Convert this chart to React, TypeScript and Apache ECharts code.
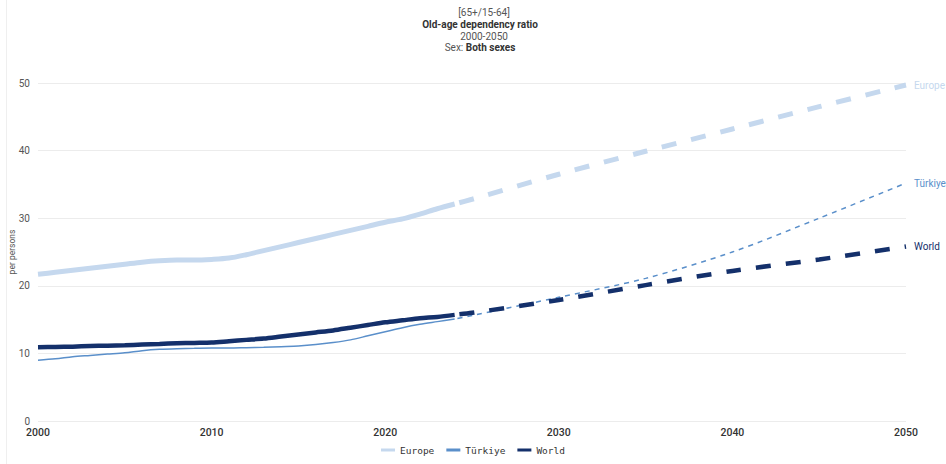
import React, { useEffect, useRef } from "react";
import * as echarts from "echarts";

const histYears = [2000, 2001, 2002, 2003, 2004, 2005, 2006, 2007, 2008, 2009, 2010, 2011, 2012, 2013, 2014, 2015, 2016, 2017, 2018, 2019, 2020, 2021, 2022, 2023, 2024];
const europeHist = [21.7, 22.0, 22.3, 22.6, 22.9, 23.2, 23.5, 23.7, 23.8, 23.8, 23.9, 24.1, 24.6, 25.2, 25.8, 26.4, 27.0, 27.6, 28.2, 28.8, 29.4, 29.9, 30.6, 31.4, 32.1];
const turkiyeHist = [9.0, 9.2, 9.5, 9.7, 9.9, 10.1, 10.4, 10.6, 10.7, 10.75, 10.8, 10.8, 10.85, 10.9, 11.0, 11.1, 11.3, 11.6, 12.0, 12.6, 13.2, 13.8, 14.3, 14.7, 15.1];
const worldHist = [10.9, 10.95, 11.0, 11.1, 11.15, 11.2, 11.3, 11.4, 11.5, 11.55, 11.6, 11.8, 12.0, 12.2, 12.5, 12.8, 13.1, 13.4, 13.8, 14.2, 14.6, 14.9, 15.2, 15.4, 15.7];

const projYears = [2024, 2025, 2030, 2035, 2040, 2045, 2050];
const europeProj = [32.1, 32.8, 36.5, 39.9, 43.2, 46.5, 49.7];
const turkiyeProj = [15.1, 15.6, 18.3, 21.1, 25.0, 30.0, 35.2];
const worldProj = [15.7, 16.0, 17.9, 20.1, 22.2, 23.9, 25.8];

const xTicks = [2000, 2010, 2020, 2030, 2040, 2050];
const yTicks = [0, 10, 20, 30, 40, 50];

const COLORS = { Europe: "#c5d8ee", Türkiye: "#5a8fca", World: "#14306b" };
const FONT = "Roboto, 'Noto Sans', sans-serif";

const pairs = (xs: number[], ys: number[]) => xs.map((x, i) => [x, ys[i]]);

export default function App() {
  const ref = useRef<HTMLDivElement>(null);
  useEffect(() => {
    if (!ref.current) return;
    const chart = echarts.init(ref.current, undefined, { renderer: "svg" });

    const mk = (name: "Europe" | "Türkiye" | "World", hist: number[], proj: number[], width: number, dash: number[], dashOffset: number) => [
      {
        name,
        type: "line",
        data: pairs(histYears, hist),
        smooth: 0.3,
        showSymbol: false,
        symbol: "none",
        lineStyle: { color: COLORS[name], width, type: "solid", cap: "butt" },
        itemStyle: { color: COLORS[name] },
        silent: true,
      },
      {
        name,
        type: "line",
        data: pairs(projYears, proj),
        smooth: 0.3,
        showSymbol: false,
        symbol: "none",
        lineStyle: { color: COLORS[name], width, type: dash, dashOffset, cap: "butt" },
        itemStyle: { color: COLORS[name] },
        silent: true,
        endLabel: {
          show: true,
          formatter: name,
          color: COLORS[name],
          fontSize: 10,
          fontFamily: FONT,
          distance: 8,
        },
      },
    ];

    chart.setOption({
      animation: false,
      backgroundColor: "#ffffff",
      textStyle: { fontFamily: FONT },
      grid: { left: 38, right: 40, top: 83, bottom: 43, containLabel: false, outerBoundsMode: "none" },
      xAxis: {
        type: "value",
        min: xTicks[0],
        max: xTicks[xTicks.length - 1],
        interval: 10,
        axisLine: { show: false },
        axisTick: { show: false },
        splitLine: { show: false },
        axisLabel: { color: "#333", fontSize: 10.5, fontWeight: 500, margin: 6, formatter: (v: number) => String(v) },
      },
      yAxis: {
        type: "value",
        min: yTicks[0],
        max: yTicks[yTicks.length - 1],
        interval: 10,
        axisLine: { show: false },
        axisTick: { show: false },
        splitLine: { lineStyle: { color: "#ececec", width: 1 } },
        axisLabel: { color: "#555", fontSize: 10, margin: 8 },
      },
      legend: {
        bottom: 4,
        left: "center",
        icon: "rect",
        itemWidth: 14,
        itemHeight: 3,
        itemGap: 12,
        selectedMode: false,
        data: ["Europe", "Türkiye", "World"],
        textStyle: { fontFamily: "'DejaVu Sans Mono', monospace", fontSize: 9.5, color: "#333" },
      },
      graphic: [
        { type: "line", shape: { x1: 6.5, y1: 0, x2: 6.5, y2: 464 }, style: { stroke: "#efefef", lineWidth: 1 }, silent: true },
        {
          type: "text",
          x: 12,
          y: 252,
          rotation: Math.PI / 2,
          style: { text: "per persons", textAlign: "center", textVerticalAlign: "middle", fill: "#555", font: `8.5px ${FONT}` },
          silent: true,
        },
        { type: "text", x: 484, y: 12, style: { text: "[65+/15-64]", textAlign: "center", textVerticalAlign: "middle", fill: "#555", font: `10px ${FONT}` } },
        { type: "text", x: 480, y: 24, style: { text: "Old-age dependency ratio", textAlign: "center", textVerticalAlign: "middle", fill: "#333", font: `bold 10px ${FONT}` } },
        { type: "text", x: 484, y: 36, style: { text: "2000-2050", textAlign: "center", textVerticalAlign: "middle", fill: "#555", font: `10px ${FONT}` } },
        {
          type: "text",
          x: 480,
          y: 47,
          style: {
            text: "Sex: {b|Both sexes}",
            textAlign: "center",
            textVerticalAlign: "middle",
            fill: "#555",
            font: `10px ${FONT}`,
            rich: { b: { fontWeight: "bold", fill: "#333", fontSize: 10, fontFamily: FONT } },
          },
        },
      ],
      series: [
        ...mk("Europe", europeHist, europeProj, 5, [15, 15], 25),
        ...mk("Türkiye", turkiyeHist, turkiyeProj, 1.5, [5, 5], 7),
        ...mk("World", worldHist, worldProj, 4.5, [15, 15], 25),
      ],
    });
    return () => chart.dispose();
  }, []);
  return <div ref={ref} style={{ position: "absolute", left: 0, top: 0, width: 946, height: 464 }} />;
}
